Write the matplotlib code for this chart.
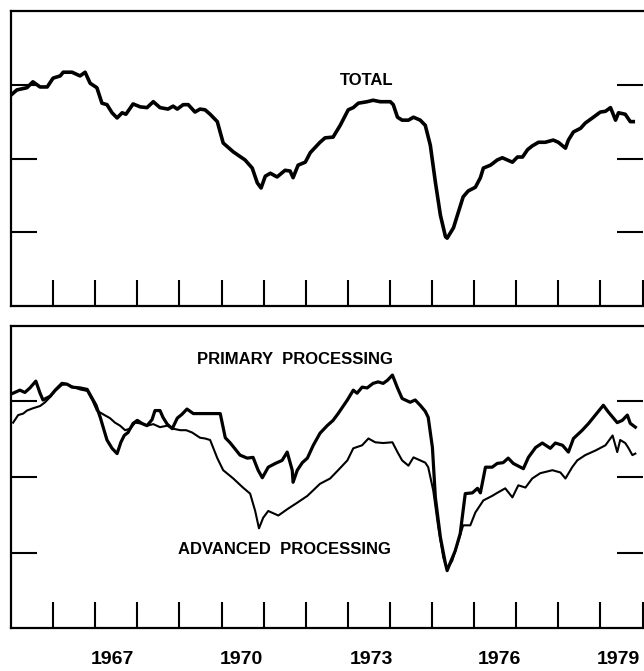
import numpy as np
import matplotlib.pyplot as plt

# capacity utilization, percent
total_t = [1965.00, 1965.14, 1965.38, 1965.52, 1965.69, 1965.86, 1966.00, 1966.17, 1966.24, 1966.45,
           1966.64, 1966.76, 1966.88, 1967.04, 1967.16, 1967.28, 1967.40, 1967.52, 1967.64, 1967.73,
           1967.90, 1968.07, 1968.23, 1968.38, 1968.54, 1968.73, 1968.85, 1968.95, 1969.09, 1969.21,
           1969.37, 1969.49, 1969.61, 1969.73, 1969.90, 1970.04, 1970.28, 1970.56, 1970.73, 1970.85,
           1970.94, 1971.04, 1971.16, 1971.32, 1971.51, 1971.63, 1971.70, 1971.82, 1971.99, 1972.11,
           1972.34, 1972.46, 1972.65, 1972.82, 1973.01, 1973.13, 1973.25, 1973.46, 1973.60, 1973.77,
           1974.01, 1974.08, 1974.18, 1974.29, 1974.44, 1974.56, 1974.72, 1974.84, 1974.96, 1975.08,
           1975.20, 1975.32, 1975.36, 1975.51, 1975.63, 1975.74, 1975.86, 1976.03, 1976.15, 1976.22,
           1976.39, 1976.55, 1976.67, 1976.79, 1976.91, 1977.03, 1977.15, 1977.27, 1977.38, 1977.53,
           1977.69, 1977.88, 1978.00, 1978.17, 1978.24, 1978.36, 1978.53, 1978.64, 1978.81, 1979.00,
           1979.12, 1979.24, 1979.36, 1979.43, 1979.59, 1979.71, 1979.78]
total_v = [88.6, 89.3, 89.6, 90.4, 89.7, 89.7, 90.9, 91.2, 91.7, 91.7,
           91.2, 91.7, 90.2, 89.6, 87.5, 87.3, 86.2, 85.5, 86.2, 86.0,
           87.4, 87.0, 86.9, 87.7, 86.9, 86.7, 87.1, 86.7, 87.3, 87.3,
           86.3, 86.7, 86.6, 86.0, 85.0, 82.1, 80.9, 79.8, 78.7, 76.7,
           76.0, 77.6, 78.0, 77.5, 78.4, 78.3, 77.4, 79.1, 79.5, 80.8,
           82.2, 82.8, 82.9, 84.5, 86.6, 86.9, 87.5, 87.7, 87.9, 87.7,
           87.7, 87.3, 85.6, 85.2, 85.2, 85.6, 85.2, 84.5, 81.8, 76.8,
           72.3, 69.4, 69.2, 70.6, 72.8, 74.8, 75.6, 76.1, 77.4, 78.7,
           79.1, 79.8, 80.1, 79.8, 79.5, 80.2, 80.2, 81.2, 81.7, 82.2,
           82.2, 82.5, 82.2, 81.4, 82.5, 83.6, 84.1, 84.8, 85.5, 86.3,
           86.4, 86.9, 85.2, 86.2, 86.0, 85.0, 85.0]

primary_t = [1965.05, 1965.21, 1965.33, 1965.45, 1965.59, 1965.69, 1965.76, 1965.93, 1966.05, 1966.21,
             1966.33, 1966.45, 1966.64, 1966.81, 1966.90, 1967.02, 1967.12, 1967.21, 1967.28, 1967.40,
             1967.52, 1967.61, 1967.69, 1967.78, 1967.90, 1968.00, 1968.11, 1968.23, 1968.35, 1968.42,
             1968.54, 1968.61, 1968.71, 1968.83, 1968.95, 1969.06, 1969.18, 1969.33, 1969.49, 1969.68,
             1969.85, 1969.97, 1970.09, 1970.21, 1970.44, 1970.61, 1970.75, 1970.87, 1970.97, 1971.11,
             1971.28, 1971.44, 1971.56, 1971.68, 1971.70, 1971.80, 1971.92, 1972.04, 1972.18, 1972.34,
             1972.51, 1972.65, 1972.77, 1972.99, 1973.13, 1973.22, 1973.34, 1973.46, 1973.60, 1973.72,
             1973.84, 1973.94, 1974.06, 1974.18, 1974.29, 1974.48, 1974.60, 1974.72, 1974.84, 1974.91,
             1975.01, 1975.08, 1975.20, 1975.32, 1975.36, 1975.43, 1975.55, 1975.67, 1975.79, 1975.96,
             1976.08, 1976.15, 1976.27, 1976.43, 1976.55, 1976.69, 1976.81, 1976.93, 1977.17, 1977.29,
             1977.46, 1977.62, 1977.81, 1977.93, 1978.10, 1978.24, 1978.36, 1978.57, 1978.72, 1978.88,
             1979.07, 1979.19, 1979.40, 1979.52, 1979.64, 1979.71, 1979.83]
primary_v = [91.1, 91.5, 91.2, 91.8, 92.7, 91.1, 90.2, 90.7, 91.5, 92.4,
             92.3, 91.9, 91.8, 91.6, 90.7, 89.5, 87.9, 86.2, 84.9, 83.8,
             83.1, 84.6, 85.5, 85.9, 87.1, 87.5, 87.1, 86.8, 87.6, 88.8,
             88.8, 87.9, 87.0, 86.4, 87.8, 88.3, 89.0, 88.4, 88.4, 88.4,
             88.4, 88.4, 85.2, 84.5, 82.9, 82.5, 82.6, 80.9, 79.9, 81.3,
             81.8, 82.2, 83.3, 80.9, 79.3, 80.9, 81.9, 82.5, 84.2, 85.8,
             86.8, 87.5, 88.4, 90.2, 91.5, 91.1, 91.9, 91.8, 92.4, 92.6,
             92.4, 92.8, 93.5, 91.8, 90.4, 89.9, 90.2, 89.5, 88.7, 87.9,
             83.9, 77.3, 72.0, 68.5, 67.6, 68.6, 70.2, 72.5, 77.8, 77.9,
             78.5, 77.9, 81.3, 81.3, 81.8, 81.9, 82.5, 81.8, 81.1, 82.6,
             83.9, 84.5, 83.8, 84.5, 84.2, 83.3, 85.1, 86.2, 87.1, 88.2,
             89.5, 88.6, 87.2, 87.5, 88.2, 87.1, 86.6]

advanced_t = [1965.05, 1965.17, 1965.29, 1965.38, 1965.52, 1965.69, 1965.81, 1965.93, 1966.05, 1966.21,
              1966.33, 1966.45, 1966.64, 1966.81, 1966.93, 1967.04, 1967.19, 1967.35, 1967.47, 1967.59,
              1967.71, 1967.83, 1967.95, 1968.07, 1968.23, 1968.38, 1968.54, 1968.71, 1968.85, 1969.02,
              1969.16, 1969.30, 1969.49, 1969.61, 1969.73, 1969.90, 1970.04, 1970.28, 1970.51, 1970.68,
              1970.80, 1970.89, 1970.99, 1971.11, 1971.35, 1971.58, 1971.80, 1972.04, 1972.34, 1972.58,
              1972.77, 1972.99, 1973.13, 1973.34, 1973.49, 1973.65, 1973.84, 1974.06, 1974.18, 1974.29,
              1974.44, 1974.56, 1974.72, 1974.84, 1974.91, 1975.03, 1975.15, 1975.27, 1975.36, 1975.48,
              1975.63, 1975.74, 1975.91, 1976.03, 1976.22, 1976.43, 1976.55, 1976.74, 1976.91, 1977.05,
              1977.22, 1977.38, 1977.57, 1977.86, 1978.05, 1978.17, 1978.33, 1978.45, 1978.64, 1978.88,
              1979.12, 1979.29, 1979.40, 1979.47, 1979.59, 1979.66, 1979.76, 1979.83]
advanced_v = [87.2, 88.2, 88.4, 88.8, 89.1, 89.4, 89.9, 90.6, 91.4, 92.2,
              92.3, 92.0, 91.6, 91.4, 90.2, 88.8, 88.3, 87.8, 87.2, 86.8,
              86.2, 86.4, 87.2, 87.1, 86.8, 87.0, 86.6, 86.8, 86.4, 86.2,
              86.2, 85.9, 85.2, 85.1, 84.9, 82.5, 80.9, 79.8, 78.6, 77.8,
              75.5, 73.2, 74.6, 75.5, 74.9, 75.8, 76.6, 77.5, 79.1, 79.8,
              80.9, 82.2, 83.8, 84.2, 85.1, 84.6, 84.5, 84.6, 83.3, 82.2,
              81.5, 82.6, 82.2, 81.9, 81.3, 78.2, 73.3, 69.3, 67.8, 68.9,
              71.6, 73.6, 73.6, 75.3, 76.9, 77.5, 77.9, 78.5, 77.3, 78.9,
              78.6, 79.8, 80.5, 80.9, 80.6, 79.8, 81.3, 82.2, 82.9, 83.5,
              84.2, 85.5, 83.3, 84.9, 84.5, 83.9, 82.9, 83.1]

year_ticks = list(range(1966, 1981))
year_labels = ['1967', '1970', '1973', '1976', '1979']
year_label_pos = [1967.42, 1970.47, 1973.57, 1976.6, 1979.42]
y_ticks = [70, 80, 90]

plt.rcParams['font.family'] = ['Liberation Sans', 'DejaVu Sans']

W, H = 644, 671
fig = plt.figure(figsize=(W / 100, H / 100), dpi=100)

# axes boxes in pixels: left, top, right, bottom
x0, x1 = 11, 642.5
ax1 = fig.add_axes([x0 / W, 1 - 306 / H, (x1 - x0) / W, (306 - 11) / H])
ax2 = fig.add_axes([x0 / W, 1 - 628 / H, (x1 - x0) / W, (628 - 326) / H])


def style(ax):
    ax.set_xlim(1965, 1980)
    ax.set_ylim(60, 100)
    ax.set_xticks(year_ticks)
    ax.set_yticks(y_ticks)
    ax.set_xticklabels([])
    ax.set_yticklabels([])
    ax.tick_params(axis='both', direction='in', length=19, width=1.5, color='black')
    ax.tick_params(axis='y', left=True, right=True)
    ax.tick_params(axis='x', bottom=True, top=False)
    ax.spines['right'].set_visible(False)
    for s in ['left', 'top', 'bottom']:
        ax.spines[s].set_linewidth(1.6)


style(ax1)
style(ax2)

ax1.plot(total_t, total_v, color='black', lw=2.6, solid_joinstyle='round')
ax1.text(1973.44, 90.6, 'TOTAL', fontsize=12, fontweight='bold', ha='center', va='center')

ax2.plot(primary_t, primary_v, color='black', lw=2.3, solid_joinstyle='round')
ax2.plot(advanced_t, advanced_v, color='black', lw=1.5, solid_joinstyle='round')
ax2.text(1971.75, 95.5, 'PRIMARY  PROCESSING', fontsize=12, fontweight='bold', ha='center', va='center')
ax2.text(1971.5, 70.4, 'ADVANCED  PROCESSING', fontsize=12, fontweight='bold', ha='center', va='center')

for lab, pos in zip(year_labels, year_label_pos):
    ax2.text(pos, -0.105, lab, transform=ax2.get_xaxis_transform(),
             fontsize=14, fontweight='bold', ha='center', va='center', clip_on=False)

fig.savefig('out.png', dpi=100)
